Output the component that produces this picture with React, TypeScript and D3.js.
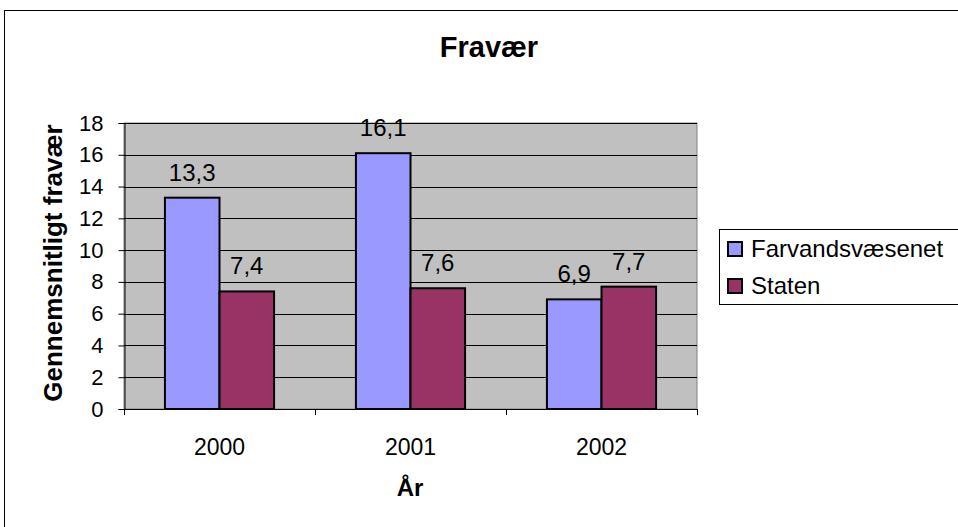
import * as d3 from "d3";
import { useRef, useEffect } from "react";

const years = ["2000", "2001", "2002"];
const seriesNames = ["Farvandsvæsenet", "Staten"];
const farvandsvaesenet = [13.3, 16.1, 6.9];
const staten = [7.4, 7.6, 7.7];
const yTicks = [0, 2, 4, 6, 8, 10, 12, 14, 16, 18];
const colors = ["#9999FF", "#993366"];

const width = 958;
const height = 527;
const plotLeft = 124;
const plotRight = 697;
const plotTop = 123;
const plotBottom = 409;
const font = "'Liberation Sans', Arial, sans-serif";

const App = () => {
  const ref = useRef<SVGSVGElement>(null);

  useEffect(() => {
    if (!ref.current) return;
    const svg = d3.select(ref.current);
    svg.selectAll("*").remove();

    // outer chart border (right and bottom edges fall off the picture)
    svg.append("rect")
      .attr("x", 4.5).attr("y", 10.5)
      .attr("width", width + 10).attr("height", height + 10)
      .attr("fill", "white").attr("stroke", "black");

    const x = d3.scaleBand().domain(years).range([plotLeft, plotRight]);
    const y = d3.scaleLinear().domain([0, 18]).range([plotBottom, plotTop]);
    const barW = x.bandwidth() / 3.5;
    const xSub = (i: number) => x.bandwidth() / 2 - barW + i * barW;

    // plot background
    svg.append("rect")
      .attr("x", plotLeft).attr("y", plotTop)
      .attr("width", plotRight - plotLeft).attr("height", plotBottom - plotTop)
      .attr("fill", "#C0C0C0").attr("stroke", "#808080");

    // gridlines
    svg.append("g")
      .selectAll("line")
      .data(yTicks.filter((t) => t > 0))
      .join("line")
      .attr("x1", plotLeft).attr("x2", plotRight)
      .attr("y1", (d) => Math.round(y(d)) + 0.5).attr("y2", (d) => Math.round(y(d)) + 0.5)
      .attr("stroke", "black");

    // y axis
    const yAxis = svg.append("g")
      .attr("transform", `translate(${plotLeft + 0.5},0)`)
      .call(d3.axisLeft(y).tickValues(yTicks).tickSize(6).tickPadding(15).tickFormat(d3.format("d")));
    yAxis.select(".domain").attr("stroke", "black");
    yAxis.selectAll("line").attr("stroke", "black");
    yAxis.selectAll("text").attr("font-family", font).attr("font-size", 22).attr("fill", "black");

    // x axis
    svg.append("line")
      .attr("x1", plotLeft).attr("x2", plotRight)
      .attr("y1", plotBottom + 0.5).attr("y2", plotBottom + 0.5)
      .attr("stroke", "black");
    const boundaries = years.map((d) => x(d)!).concat([plotRight]);
    svg.append("g").selectAll("line")
      .data(boundaries)
      .join("line")
      .attr("x1", (d) => Math.round(d) + 0.5).attr("x2", (d) => Math.round(d) + 0.5)
      .attr("y1", plotBottom).attr("y2", plotBottom + 6)
      .attr("stroke", "black");
    svg.append("g").selectAll("text")
      .data(years)
      .join("text")
      .attr("x", (d) => x(d)! + x.bandwidth() / 2)
      .attr("y", plotBottom + 46)
      .attr("text-anchor", "middle")
      .attr("font-family", font).attr("font-size", 23)
      .text((d) => d);

    // bars
    const series = [farvandsvaesenet, staten];
    series.forEach((vals, i) => {
      const g = svg.append("g");
      g.selectAll("rect")
        .data(vals)
        .join("rect")
        .attr("x", (d, j) => x(years[j])! + xSub(i))
        .attr("y", (d) => y(d))
        .attr("width", barW)
        .attr("height", (d) => y(0) - y(d))
        .attr("fill", colors[i])
        .attr("stroke", "black").attr("stroke-width", 2);
      g.selectAll("text")
        .data(vals)
        .join("text")
        .attr("x", (d, j) => x(years[j])! + xSub(i) + barW / 2)
        .attr("y", (d) => y(d) - 17)
        .attr("text-anchor", "middle")
        .attr("font-family", font).attr("font-size", 24)
        .text((d) => d3.format(".1f")(d).replace(".", ","));
    });

    // titles
    svg.append("text")
      .attr("x", 489).attr("y", 57)
      .attr("text-anchor", "middle")
      .attr("font-family", font).attr("font-size", 29).attr("font-weight", "bold")
      .text("Fravær");
    svg.append("text")
      .attr("x", 410).attr("y", 496)
      .attr("text-anchor", "middle")
      .attr("font-family", font).attr("font-size", 24).attr("font-weight", "bold")
      .text("År");
    svg.append("text")
      .attr("transform", `translate(62,${(plotTop + plotBottom) / 2 - 3}) rotate(-90)`)
      .attr("text-anchor", "middle")
      .attr("font-family", font).attr("font-size", 26).attr("font-weight", "bold")
      .text("Gennemsnitligt fravær");

    // legend
    const legend = svg.append("g");
    legend.append("rect")
      .attr("x", 719.5).attr("y", 229.5)
      .attr("width", 250).attr("height", 75)
      .attr("fill", "white").attr("stroke", "black");
    const items = legend.selectAll("g")
      .data(seriesNames)
      .join("g")
      .attr("transform", (d, i) => `translate(728,${257 + i * 37})`);
    items.append("rect")
      .attr("x", 0).attr("y", -15)
      .attr("width", 14).attr("height", 14)
      .attr("fill", (d, i) => colors[i])
      .attr("stroke", "black").attr("stroke-width", 2);
    items.append("text")
      .attr("x", 23).attr("y", 0)
      .attr("font-family", font).attr("font-size", 24)
      .text((d) => d);
  }, []);

  return (
    <svg ref={ref} width={width} height={height}
      style={{ position: "absolute", left: 0, top: 0 }} />
  );
};

export default App;
